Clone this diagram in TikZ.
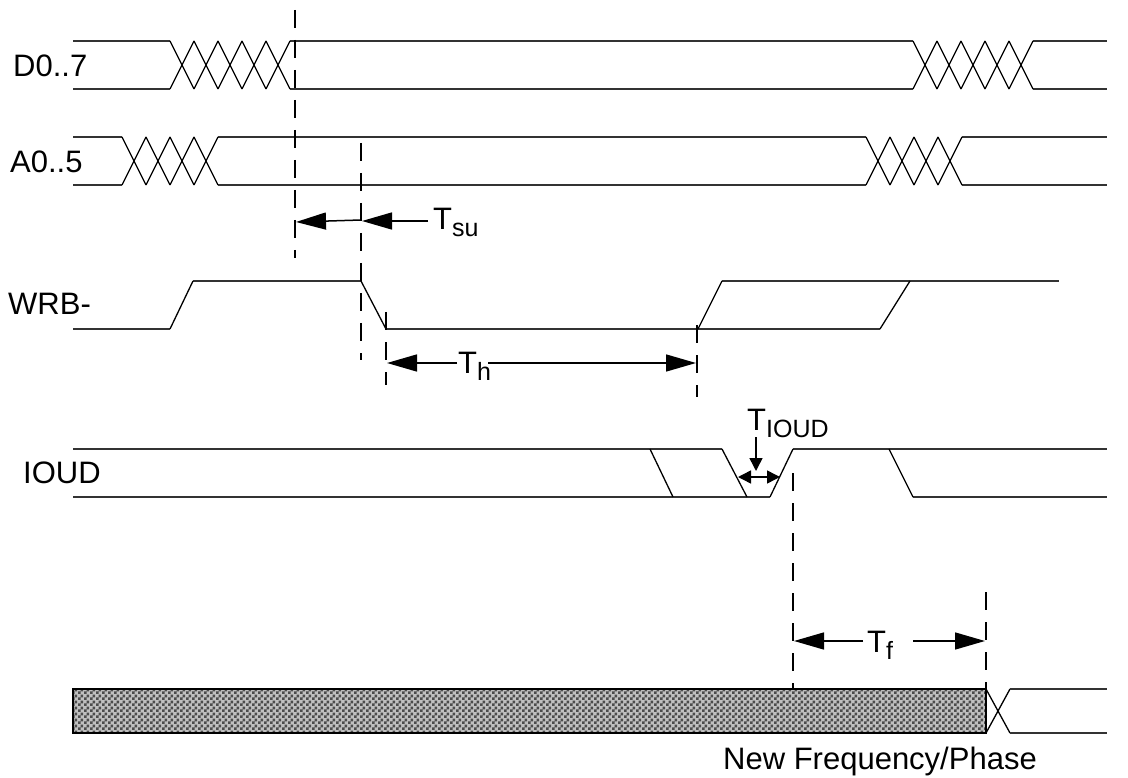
\documentclass[tikz,border=0pt]{standalone}
\usepackage{fontspec}
\setmainfont{Liberation Sans}
\usepackage{tikz}
\usetikzlibrary{arrows.meta}
\usetikzlibrary{patterns}

\pgfdeclarepatternformonly{checker}{\pgfpointorigin}{\pgfpoint{6pt}{6pt}}{\pgfpoint{6pt}{6pt}}{%
    \pgfpathrectangle{\pgfpointorigin}{\pgfpoint{3pt}{3pt}}%
    \pgfpathrectangle{\pgfpoint{3pt}{3pt}}{\pgfpoint{3pt}{3pt}}%
    \pgfusepath{fill}}

\newcommand{\tsub}[1]{\raisebox{-7pt}{\fontsize{25}{25}\selectfont #1}}

\begin{document}
\begin{tikzpicture}[x=1pt,y=-1pt]
        \tikzstyle{sigline}=[line width=2pt, black!80]
        \tikzstyle{slope}=[line width=1.3pt, black]
        \tikzstyle{guide}=[line width=2pt, black, dash pattern=on 18pt off 12pt]
        \tikzstyle{tarrow}=[line width=1.5pt, -{Triangle[length=30pt,width=17pt]}]
        \tikzstyle{sigtext}=[font=\fontsize{31}{31}\selectfont, inner sep=0pt,
            anchor=base west]

            \useasboundingbox (0,0) rectangle (1128,778);

            \node[sigtext] (d07) at (13,77) {D0..7};
            \node[sigtext] (a05) at (10,173) {A0..5};
            \node[sigtext] (wrb) at (8,315) {WRB-};
            \node[sigtext] (ioud) at (23,483) {IOUD};
            \node[sigtext] (newf) at (723,769) {New Frequency/Phase};

            \draw[sigline] (73,41) -- (170,41) (73,89) -- (170,89)
            (290,41) -- (913,41) (290,89) -- (913,89)
            (1033,41) -- (1107,41) (1033,89) -- (1107,89);
            \foreach \x in {170, 194, 218, 242, 266, 913, 937, 961, 985, 1009}
            {
                \draw[slope] (\x,41) -- ++(24,48) (\x,89) -- ++(24,-48);
            }

            \draw[sigline] (73,137) -- (122,137) (73,185) -- (122,185)
            (218,137) -- (866,137) (218,185) -- (866,185)
            (962,137) -- (1107,137) (962,185) -- (1107,185);
            \foreach \x in {122, 146, 170, 194, 866, 890, 914, 938}
            {
                \draw[slope] (\x,137) -- ++(24,48) (\x,185) -- ++(24,-48);
            }

            \draw[sigline] (73,329) -- (170,329) (193,281) -- (361,281)
            (386,329) -- (880,329) (722,281) -- (1059,281);
            \draw[slope] (170,329) -- (193,281) (361,281) -- (386,329)
            (698,329) -- (722,281) (880,329) -- (910,281);

            \draw[sigline] (73,449) -- (722,449) (793,449) -- (1107,449)
            (73,497) -- (770,497) (913,497) -- (1107,497);
            \draw[slope] (650,449) -- (673,497) (722,449) -- (747,497)
            (770,497) -- (793,449) (889,449) -- (913,497);

            \fill[black!25] (73,689) rectangle (986,733);
            \fill[pattern=checker, pattern color=black!70] (73,689) rectangle
            (986,733);
            \draw[line width=2pt] (73,689) rectangle (986,733);
            \draw[slope] (986,689) -- (1010,733) (986,733) -- (1010,689);
            \draw[sigline] (1010,689) -- (1107,689) (1010,733) -- (1107,733);

            \coordinate (dtop) at (295,10);
            \coordinate (dbot) at (295,258);
            \coordinate (wtop) at (361,143);
            \coordinate (wbot) at (361,360);
            \coordinate (htop) at (386,312);
            \coordinate (hbot) at (386,385);
            \coordinate (rtop) at (697,325);
            \coordinate (rbot) at (697,397);
            \coordinate (itop) at (793,473);
            \coordinate (ibot) at (793,689);
            \coordinate (ftop) at (986,592);
            \coordinate (fbot) at (986,689);
            \foreach \m in {d, w, h, r, i, f}
            {
                \draw[guide] (\m top) -- (\m bot);
            }

            \node[sigtext] (tsu) at (433,230) {T\tsub{su}};
            \coordinate (su0) at (361,220);
            \coordinate (su1) at (296,222);
            \coordinate (su2) at (428,221);
            \coordinate (su3) at (362,221);
            \draw[tarrow] (su0) -- (su1);
            \draw[tarrow] (su2) -- (su3);

            \node[sigtext] (th) at (458,373) {T\tsub{h}};
            \coordinate (h0) at (457,363);
            \coordinate (h1) at (387,363);
            \coordinate (h2) at (488,363);
            \coordinate (h3) at (696,363);
            \draw[tarrow] (h0) -- (h1);
            \draw[tarrow] (h2) -- (h3);

            \node[sigtext] (tioud) at (747,430) {T\tsub{IOUD}};
            \coordinate (io0) at (738,477);
            \coordinate (io1) at (780,477);
            \coordinate (io2) at (756,437);
            \coordinate (io3) at (756,471);
            \draw[line width=1.5pt, {Triangle[length=13pt,width=13pt]}-{Triangle[
            length=13pt,width=13pt]}] (io0) -- (io1);
            \draw[line width=1.5pt, -{Triangle[length=13pt,width=13pt]}] (io2)
            -- (io3);

            \node[sigtext] (tf) at (867,652) {T\tsub{f}};
            \coordinate (f0) at (863,641);
            \coordinate (f1) at (794,641);
            \coordinate (f2) at (913,641);
            \coordinate (f3) at (985,641);
            \draw[tarrow] (f0) -- (f1);
            \draw[tarrow] (f2) -- (f3);
    \end{tikzpicture}
\end{document}
